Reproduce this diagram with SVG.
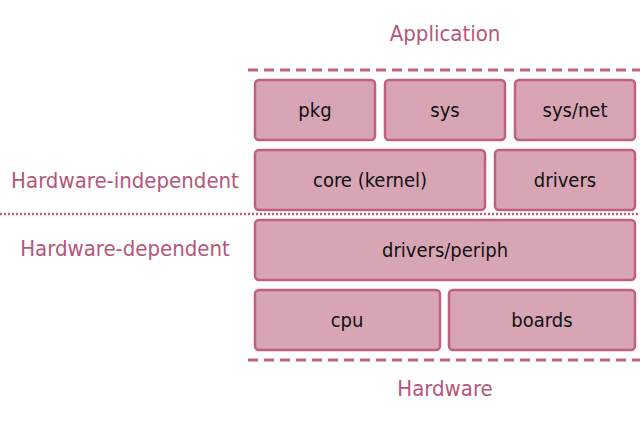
<svg xmlns="http://www.w3.org/2000/svg" width="640" height="430" viewBox="0 0 640 430">
<style>
.box{fill:#d8a5b5;stroke:#c0607f;stroke-width:2.5}
.bt{font-family:"DejaVu Sans Condensed","DejaVu Sans",sans-serif;font-stretch:condensed;font-size:20px;fill:#111;text-anchor:middle;dominant-baseline:central}
.lb{font-family:"DejaVu Sans Condensed","DejaVu Sans",sans-serif;font-stretch:condensed;font-size:22px;fill:#b5577a;text-anchor:middle;dominant-baseline:central}
.dash{stroke:#c0607f;stroke-width:3;stroke-dasharray:10 6;fill:none}
.dot{stroke:#c0607f;stroke-width:2.5;stroke-dasharray:2 2;fill:none}
</style>
<rect width="640" height="430" fill="#fff"/>
<g id="connectors">
<line class="dash" x1="248" y1="70" x2="640" y2="70"/>
<line class="dot" x1="0" y1="214" x2="640" y2="214"/>
<line class="dash" x1="248" y1="360" x2="640" y2="360"/>
</g>
<g id="application"><text class="lb" x="445" y="33">Application</text></g>
<g id="hw-indep"><text class="lb" x="125" y="180">Hardware-independent</text></g>
<g id="hw-dep"><text class="lb" x="125" y="248">Hardware-dependent</text></g>
<g id="hardware"><text class="lb" x="445" y="388">Hardware</text></g>
<g id="pkg"><rect class="box" x="255" y="80" width="120" height="60" rx="4"/><text class="bt" x="315" y="110">pkg</text></g>
<g id="sys"><rect class="box" x="385" y="80" width="120" height="60" rx="4"/><text class="bt" x="445" y="110">sys</text></g>
<g id="sysnet"><rect class="box" x="515" y="80" width="120" height="60" rx="4"/><text class="bt" x="575" y="110">sys/net</text></g>
<g id="core"><rect class="box" x="255" y="150" width="230" height="60" rx="4"/><text class="bt" x="370" y="180">core (kernel)</text></g>
<g id="drivers"><rect class="box" x="495" y="150" width="140" height="60" rx="4"/><text class="bt" x="565" y="180">drivers</text></g>
<g id="periph"><rect class="box" x="255" y="220" width="380" height="60" rx="4"/><text class="bt" x="445" y="250">drivers/periph</text></g>
<g id="cpu"><rect class="box" x="255" y="290" width="185" height="60" rx="4"/><text class="bt" x="347" y="320">cpu</text></g>
<g id="boards"><rect class="box" x="449" y="290" width="186" height="60" rx="4"/><text class="bt" x="542" y="320">boards</text></g>
</svg>
